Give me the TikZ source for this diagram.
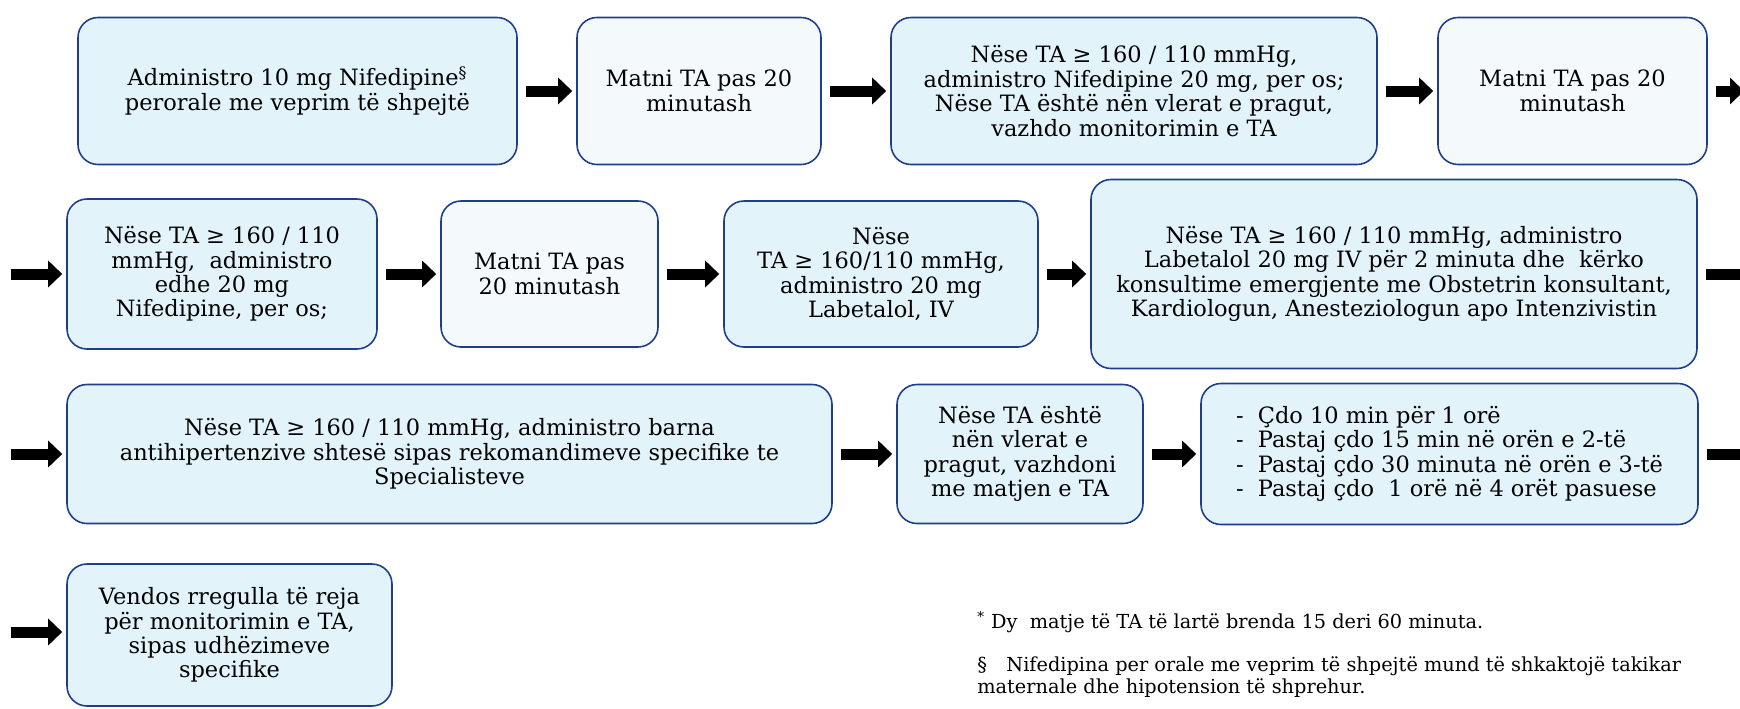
\documentclass[tikz,border=0pt]{standalone}
\usepackage{fontspec}
\setmainfont{DejaVu Serif}
\usetikzlibrary{arrows.meta}

\definecolor{edgeblue}{RGB}{30,62,140}
\definecolor{tintblue}{RGB}{226,243,250}
\definecolor{paleblue}{RGB}{244,249,252}

\tikzstyle{stepbox} = [rectangle, rounded corners=4mm, draw=edgeblue, line width=0.9pt, fill=tintblue, align=center, inner sep=2pt, font=\fontsize{12.8}{13.9}\selectfont]
\tikzstyle{plainbox} = [stepbox, fill=paleblue]
\tikzstyle{fat} = [line width=2.2mm, -{Triangle[length=2.8mm,width=5.2mm]}, shorten <=1.6mm, shorten >=0.8mm]
\tikzstyle{note} = [anchor=west, align=left, inner sep=0pt, font=\fontsize{11}{12.6}\selectfont]

\begin{document}
\begin{tikzpicture}[x=0.2mm,y=-0.2mm]
\useasboundingbox (0,0) rectangle (1740,708);

\node [stepbox, minimum width=87.8mm, minimum height=29.4mm] (a) at (297.5,91) {Administro 10 mg Nifedipine\textsuperscript{\S}\\perorale me veprim të shpejtë};
\node [plainbox, minimum width=48.8mm, minimum height=29.4mm] (b) at (699,91) {Matni TA pas 20\\minutash};
\node [stepbox, minimum width=97.2mm, minimum height=29.4mm] (c) at (1134,91) {Nëse TA ≥ 160 / 110 mmHg,\\administro Nifedipine 20 mg, per os;\\Nëse TA është nën vlerat e pragut,\\vazhdo monitorimin e TA};
\node [plainbox, minimum width=53.8mm, minimum height=29.4mm] (d) at (1572.5,91) {Matni TA pas 20\\minutash};

\node [stepbox, minimum width=62mm, minimum height=30mm] (e) at (222,274) {Nëse TA ≥ 160 / 110\\mmHg,\ \ administro\\edhe 20 mg\\Nifedipine, per os;};
\node [plainbox, minimum width=43.4mm, minimum height=29.2mm] (f) at (549.5,274) {Matni TA pas\\20 minutash};
\node [stepbox, minimum width=62.8mm, minimum height=29.2mm] (g) at (881,274) {Nëse\\TA ≥ 160/110 mmHg,\\administro 20 mg\\Labetalol, IV};
\node [stepbox, minimum width=121.2mm, minimum height=37.8mm] (h) at (1394,274) {Nëse TA ≥ 160 / 110 mmHg, administro\\Labetalol 20 mg IV për 2 minuta dhe\ \ kërko\\konsultime emergjente me Obstetrin konsultant,\\Kardiologun, Anesteziologun apo Intenzivistin};

\node [stepbox, minimum width=153mm, minimum height=27.8mm] (i) at (449.5,454) {Nëse TA ≥ 160 / 110 mmHg, administro barna\\antihipertenzive shtesë sipas rekomandimeve specifike te\\Specialisteve};
\node [stepbox, minimum width=49.2mm, minimum height=27.8mm] (j) at (1020,454) {Nëse TA është\\nën vlerat e\\pragut, vazhdoni\\me matjen e TA};
\node [stepbox, minimum width=99.4mm, minimum height=28.2mm, align=left] (k) at (1449.5,454) {-\ \ Çdo 10 min për 1 orë\\-\ \ Pastaj çdo 15 min në orën e 2-të\\-\ \ Pastaj çdo 30 minuta në orën e 3-të\\-\ \ Pastaj çdo\ \ 1 orë në 4 orët pasuese};

\node [stepbox, minimum width=65mm, minimum height=28.4mm] (l) at (229.5,635) {Vendos rregulla të reja\\për monitorimin e TA,\\sipas udhëzimeve\\specifike};

\node [note] (n1) at (977,622) {\textsuperscript{*} Dy\ \ matje të TA të lartë brenda 15 deri 60 minuta.};
\node [note] (n2) at (977,677) {\S\quad Nifedipina per orale me veprim të shpejtë mund të shkaktojë takikar\\maternale dhe hipotension të shprehur.};

\coordinate (in2) at (11,274);
\coordinate (in3) at (11,454);
\coordinate (in4) at (11,632);
\coordinate (out1) at (1748,91);
\coordinate (out2) at (1768,274);
\coordinate (out3) at (1768,454);

\draw [fat] (a) -- (b);
\draw [fat] (b) -- (c);
\draw [fat] (c) -- (d);
\draw [fat] (d) -- (out1);
\draw [fat, shorten <=0pt] (in2) -- (e);
\draw [fat] (e) -- (f);
\draw [fat] (f) -- (g);
\draw [fat] (g) -- (h);
\draw [fat] (h) -- (out2);
\draw [fat, shorten <=0pt] (in3) -- (i);
\draw [fat] (i) -- (j);
\draw [fat] (j) -- (k);
\draw [fat] (k) -- (out3);
\draw [fat, shorten <=0pt] (in4) -- (l.west |- in4);
\end{tikzpicture}
\end{document}
